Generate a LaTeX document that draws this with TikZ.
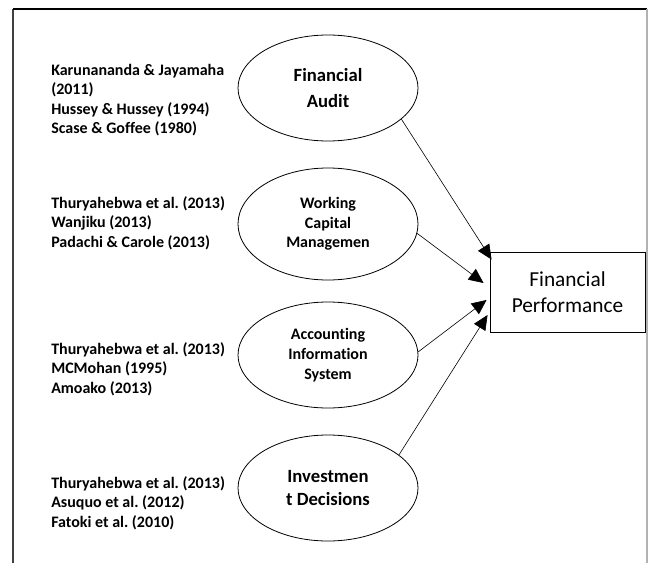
\documentclass[tikz,border=0pt]{standalone}
\usepackage{fontspec}
\setmainfont{Carlito}[Ligatures=NoCommon]
\usetikzlibrary{shapes.geometric, arrows.meta}
\frenchspacing

\tikzset{
    refs/.style={anchor=west, align=left, inner sep=0pt, font=\bfseries\fontsize{12}{14.6}\selectfont},
    factor/.style={ellipse, draw, line width=0.6pt, minimum width=135pt, minimum height=79.5pt, inner sep=0pt, align=center, font=\bfseries\fontsize{12}{14.8}\selectfont},
    outcome/.style={draw, line width=0.7pt, minimum width=116.25pt, minimum height=60pt, inner sep=0pt, align=center, font=\fontsize{16}{19.5}\selectfont},
    link/.style={line width=0.45pt, -{Triangle[length=11pt, width=10pt]}},
}

\begin{document}
\begin{tikzpicture}[x=0.75pt, y=-0.75pt]
        \useasboundingbox (0, 0) rectangle (648, 563);
        % frame
        \draw[line width=1pt, black!75] (13, 563) -- (13, 9);
        \draw[line width=0.8pt] (13, 9) -- (647, 9);
        \draw[line width=0.8pt, black!30] (647, 9) -- (647, 563);

        \node[refs] (r1) at (51, 100) {Karunananda \& Jayamaha\\(2011)\\Hussey \& Hussey (1994)\\Scase \& Goffee (1980)};
        \node[refs] (r2) at (51, 223) {Thuryahebwa et al. (2013)\\Wanjiku (2013)\\Padachi \& Carole (2013)};
        \node[refs] (r3) at (51, 369) {Thuryahebwa et al. (2013)\\MCMohan (1995)\\Amoako (2013)};
        \node[refs] (r4) at (51, 503) {Thuryahebwa et al. (2013)\\Asuquo et al. (2012)\\Fatoki et al. (2010)};

        \node[factor, font=\bfseries\fontsize{14}{19.5}\selectfont] (fa) at (328, 88) {Financial\\Audit};
        \node[factor, minimum height=84pt] (wc) at (328, 224) {Working\\Capital\\Managemen};
        \node[factor] (ais) at (328, 355) {Accounting\\Information\\System};
        \node[factor, font=\bfseries\fontsize{14}{17}\selectfont] (id) at (328, 488) {Investmen\\t Decisions};

        \node[outcome] (fp) at (567.5, 292) {Financial\\Performance};

        \draw[link] (fa.-23) -- ([xshift=1.5pt, yshift=-6pt]fp.north west);
        \draw[link] (wc.-6) -- ([xshift=-4.5pt, yshift=6.75pt]fp.west);
        \draw[link] (ais.2) -- ([xshift=-2.25pt, yshift=-6pt]fp.west);
        \draw[link] (id.25) -- ([xshift=-1.5pt, yshift=-17.25pt]fp.west);
    \end{tikzpicture}
\end{document}
